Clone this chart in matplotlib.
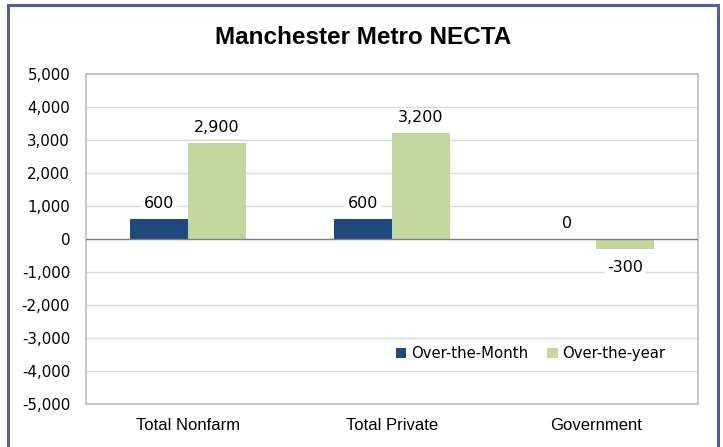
import matplotlib
matplotlib.use("Agg")
import matplotlib.pyplot as plt
from matplotlib.patches import Rectangle
from matplotlib.ticker import FuncFormatter

categories = ["Total Nonfarm", "Total Private", "Government"]
over_month = [600, 600, 0]
over_year = [2900, 3200, -300]
series_names = ["Over-the-Month", "Over-the-year"]

DARK = "#1F497D"
GREEN = "#C3D69B"

plt.rcParams["font.family"] = ["DejaVu Sans"]

fig = plt.figure(figsize=(7.23, 4.47), dpi=100)
ax = fig.add_axes([0.119, 0.0962, 0.8465, 0.7383])

# outer blue frame (open at the bottom)
fig.patches.append(Rectangle((8 / 723, -0.05), 710 / 723, 1.05 - 5 / 447,
                             transform=fig.transFigure, fill=False,
                             edgecolor="#4F5FA0", linewidth=2.2))

x = list(range(len(categories)))
w = 0.284
b1 = ax.bar([i - w / 2 for i in x], over_month, w, color=DARK, label=series_names[0], zorder=3)
b2 = ax.bar([i + w / 2 for i in x], over_year, w, color=GREEN, label=series_names[1], zorder=3)

ax.set_xlim(-0.5, 2.5)
ax.set_ylim(-5000, 5000)
ax.set_yticks(range(-5000, 5001, 1000))
ax.yaxis.set_major_formatter(FuncFormatter(lambda v, p: f"{int(v):,}"))
ax.set_xticks(x)
ax.set_xticklabels(categories, fontsize=12, family="Liberation Sans")
ax.tick_params(axis="both", length=0, colors="black")
ax.tick_params(axis="y", pad=11.5, labelsize=10.8)
ax.tick_params(axis="x", pad=10)

ax.grid(axis="y", color="#D9D9D9", linewidth=1, zorder=0)
ax.axhline(0, color="#808080", linewidth=1, zorder=4)
for s in ax.spines.values():
    s.set_color("#BFBFBF")
    s.set_linewidth(1.2)

for bars in (b1, b2):
    for rect, v in zip(bars, bars.datavalues):
        cx = rect.get_x() + rect.get_width() / 2
        label = f"{int(v):,}"
        if v < 0:
            ax.annotate(label, (cx, v), xytext=(0, -8), textcoords="offset points",
                        ha="center", va="top", fontsize=11.5, zorder=5,
                        bbox=dict(boxstyle="square,pad=0.15", fc="white", ec="none"))
        else:
            ax.annotate(label, (cx, v), xytext=(0, 6), textcoords="offset points",
                        ha="center", va="bottom", fontsize=11.5, zorder=5,
                        bbox=dict(boxstyle="square,pad=0.15", fc="white", ec="none"))

ax.legend(loc="lower right", bbox_to_anchor=(0.968, 0.09), ncol=2, frameon=False,
          fontsize=10.7, handlelength=0.7, handleheight=0.7, handletextpad=0.3,
          columnspacing=1.3)

fig.text(0.502, 0.915, "Manchester Metro NECTA", ha="center", va="center",
         fontsize=17.5, fontweight="bold", family="Liberation Sans")

fig.savefig("out.png", dpi=100)
